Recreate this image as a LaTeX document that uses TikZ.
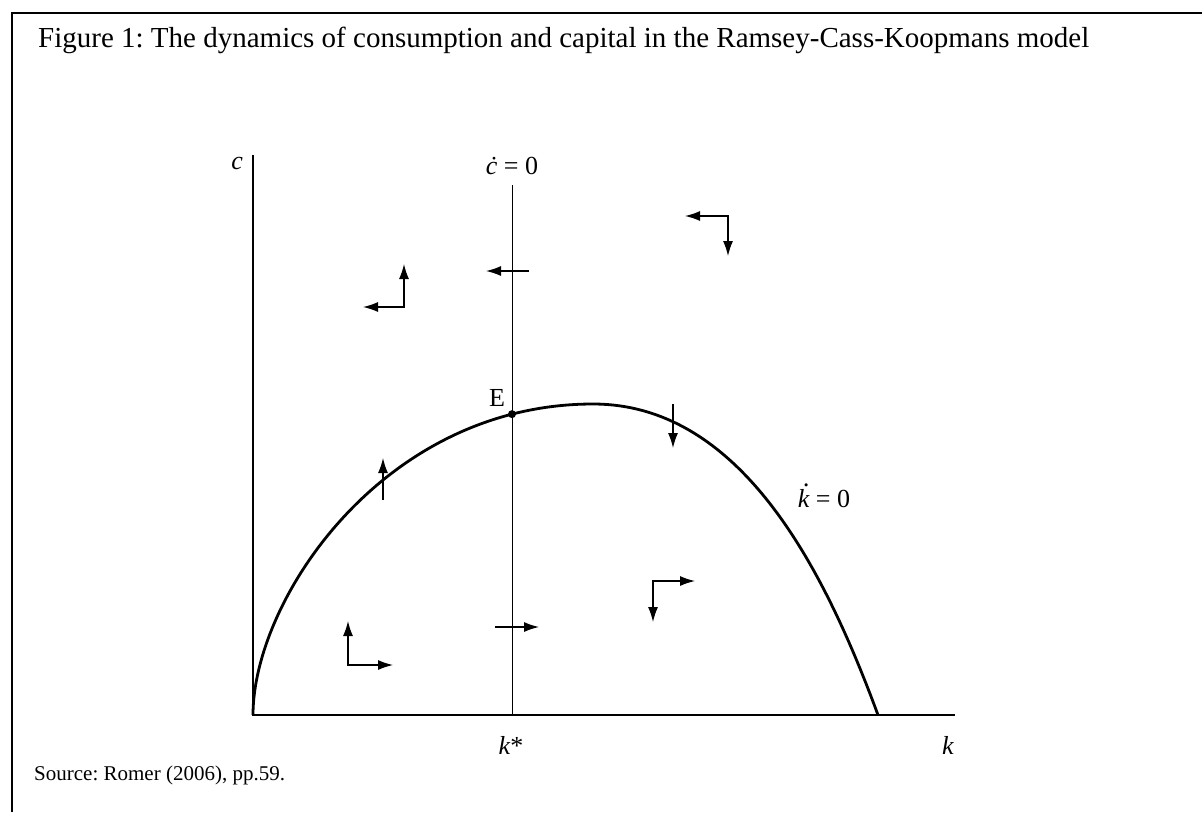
\documentclass[tikz,border=0pt]{standalone}
\usepackage{fontspec}
\setmainfont{Liberation Serif}
\usepackage{tikz}
\usetikzlibrary{arrows.meta,intersections}
\frenchspacing
\newcommand\dotk{\makebox[0pt][l]{\kern0.22em\raisebox{0.82em}{.}}k}

\begin{document}
\begin{tikzpicture}[x=1pt,y=-1pt,>={Latex[length=15pt,width=10pt]},line cap=butt,
  flow/.style={<->,line width=1.3pt},
  lbl/.style={inner sep=0pt,font=\fontsize{26}{28}\selectfont}]
\useasboundingbox (0,0) rectangle (1202,812);
% frame and caption
\draw[line width=2pt] (12,812) -- (12,13) -- (1202,13);
\node[anchor=west,inner sep=0pt,font=\fontsize{29}{32}\selectfont] (title) at (38,40)
  {Figure 1: The dynamics of consumption and capital in the Ramsey-Cass-Koopmans model};
\node[anchor=west,inner sep=0pt,font=\fontsize{21}{24}\selectfont] (source) at (34,775)
  {Source: Romer (2006), pp.59.};
% axes and the c-dot locus
\coordinate (O) at (253,715);
\draw[line width=1.6pt] (253,155) -- (O) -- (955,715);
\draw[line width=1pt,name path=cdot] (512,185) -- (512,715);
% k-dot locus
\draw[line width=2.8pt,name path=kdot] (O) .. controls (253,600) and (383,404) .. (593,404)
  .. controls (743,404) and (826,574) .. (878,715);
\fill[name intersections={of=cdot and kdot}] (intersection-1) circle (4pt);
% labels
\node[lbl,anchor=east] (clab) at (243,163) {\itshape c};
\node[lbl] (cdotlab) at (512,166) {\itshape ċ\upshape\ = 0};
\node[lbl] (Elab) at (497,398) {E};
\node[lbl] (kdotlab) at (824,496) {\itshape\dotk\upshape\ = 0};
\node[lbl] (kstar) at (511,745) {\itshape k\upshape *};
\node[lbl] (klab) at (948,745) {\itshape k};
% motion arrows
\draw[flow] (404,264) -- (404,307) -- (363,307);
\draw[flow] (685,216) -- (728,216) -- (728,256);
\draw[flow] (348,621) -- (348,665) -- (393,665);
\draw[flow] (653,622) -- (653,581) -- (695,581);
\draw[->,line width=1.3pt] (529,271) -- (486,271);
\draw[->,line width=1.3pt] (495,627) -- (539,627);
\draw[->,line width=1.3pt] (673,404) -- (673,448);
\draw[->,line width=1.3pt] (383,500) -- (383,458);
\end{tikzpicture}
\end{document}
